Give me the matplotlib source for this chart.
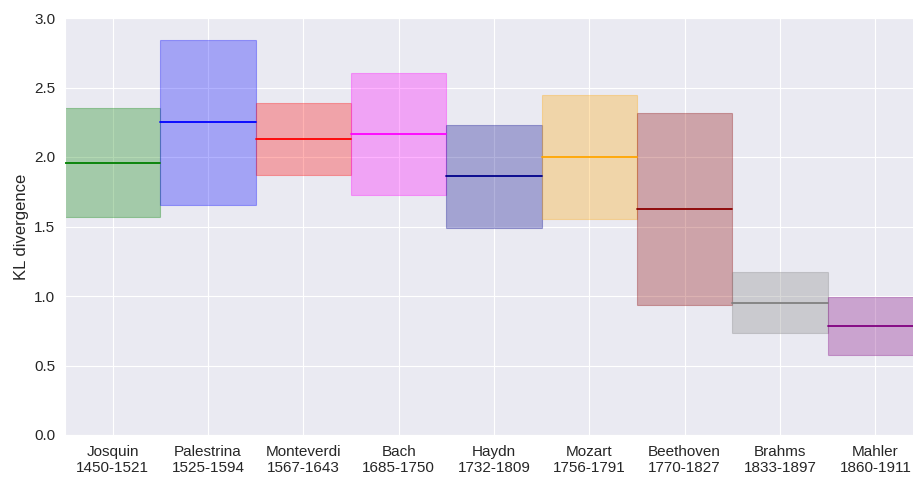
import matplotlib
matplotlib.use("Agg")
import matplotlib.pyplot as plt
import seaborn as sns
from matplotlib.patches import Rectangle

composers = ["Josquin", "Palestrina", "Monteverdi", "Bach", "Haydn",
             "Mozart", "Beethoven", "Brahms", "Mahler"]
years = ["1450-1521", "1525-1594", "1567-1643", "1685-1750", "1732-1809",
         "1756-1791", "1770-1827", "1833-1897", "1860-1911"]
means = [1.96, 2.25, 2.13, 2.165, 1.86, 2.00, 1.625, 0.95, 0.785]
lows = [1.565, 1.655, 1.87, 1.725, 1.49, 1.555, 0.935, 0.735, 0.578]
highs = [2.355, 2.845, 2.39, 2.605, 2.23, 2.445, 2.317, 1.17, 0.995]
colors = ["green", "blue", "red", "magenta", "darkblue",
          "orange", "darkred", "gray", "purple"]

sns.set_style("darkgrid")
plt.rcParams['font.family'] = ['Liberation Sans', 'DejaVu Sans']

fig = plt.figure(figsize=(9.13, 4.78), dpi=100)
ax = fig.add_axes([65/913, 1 - 435/478, (923 - 65)/913, 417/478])

for i, (m, lo, hi, c) in enumerate(zip(means, lows, highs, colors)):
    ax.add_patch(Rectangle((i - 0.5, lo), 1.0, hi - lo, facecolor=c,
                           edgecolor=c, alpha=0.3, linewidth=0.8, zorder=2))
    ax.plot([i - 0.5, i + 0.5], [m, m], color=c, linewidth=1.3, zorder=3)

ax.set_xlim(-0.5, len(composers) - 0.5)
ax.set_ylim(0, 3.0)
ax.set_xticks(range(len(composers)))
ax.set_xticklabels([f"{n}\n{y}" for n, y in zip(composers, years)])
ax.set_yticks([0, 0.5, 1.0, 1.5, 2.0, 2.5, 3.0])
ax.set_ylabel("KL divergence", fontsize=12)
ax.tick_params(labelsize=11, colors="#262626")

fig.savefig("out.png", dpi=100)
